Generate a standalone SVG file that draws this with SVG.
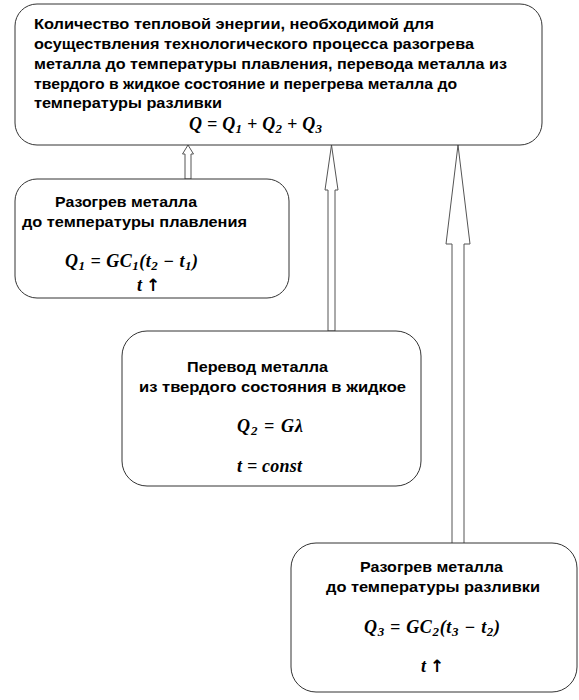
<svg xmlns="http://www.w3.org/2000/svg" width="579" height="700" viewBox="0 0 579 700">
<style>
.box{fill:#fff;stroke:#333;stroke-width:1}
.arr{fill:#fff;stroke:#555;stroke-width:1}
.t{font-family:"Liberation Sans",Arial,sans-serif;font-weight:bold;font-size:14.5px;fill:#000}
.f{font-family:"Liberation Serif","Times New Roman",serif;font-weight:bold;font-style:italic;font-size:18px;fill:#000}
.s{font-size:13px}
.up{font-family:"DejaVu Sans",sans-serif;font-style:normal;font-weight:bold;font-size:17px}
</style>
<rect width="579" height="700" fill="#fff"/>
<g id="connectors">
<path class="arr" d="M188,145 L193.5,154 L191,154 L191,179 L185,179 L185,154 L182.5,154 Z"/>
<path class="arr" d="M331.5,145 L338,190 L335,190 L335,331 L328,331 L328,190 L325,190 Z"/>
<path class="arr" d="M458,145 L470,244 L464,244 L464,551 L452,551 L452,244 L446,244 Z"/>
</g>
<g id="total">
<rect class="box" x="15" y="4" width="527" height="141" rx="22"/>
<text class="t" x="34" y="29" textLength="400" lengthAdjust="spacingAndGlyphs">Количество тепловой энергии, необходимой для</text>
<text class="t" x="34" y="49" textLength="440" lengthAdjust="spacingAndGlyphs">осуществления технологического процесса разогрева</text>
<text class="t" x="34" y="69" textLength="473" lengthAdjust="spacingAndGlyphs">металла до температуры плавления, перевода металла из</text>
<text class="t" x="34" y="89" textLength="423" lengthAdjust="spacingAndGlyphs">твердого в жидкое состояние и перегрева металла до</text>
<text class="t" x="34" y="108" textLength="188" lengthAdjust="spacingAndGlyphs">температуры разливки</text>
<text class="f" x="189" y="130" textLength="133" lengthAdjust="spacing">Q = Q<tspan class="s" dy="3">1</tspan><tspan dy="-3"> + Q</tspan><tspan class="s" dy="3">2</tspan><tspan dy="-3"> + Q</tspan><tspan class="s" dy="3">3</tspan></text>
</g>
<g id="q1">
<rect class="box" x="15" y="179" width="274" height="119" rx="22"/>
<text class="t" x="55" y="207" textLength="142" lengthAdjust="spacingAndGlyphs">Разогрев металла</text>
<text class="t" x="22" y="227" textLength="225" lengthAdjust="spacingAndGlyphs">до температуры плавления</text>
<text class="f" x="65" y="267" textLength="133" lengthAdjust="spacing">Q<tspan class="s" dy="3">1</tspan><tspan dy="-3"> = GC</tspan><tspan class="s" dy="3">1</tspan><tspan dy="-3">(t</tspan><tspan class="s" dy="3">2</tspan><tspan dy="-3"> − t</tspan><tspan class="s" dy="3">1</tspan><tspan dy="-3">)</tspan></text>
<text class="f" x="137" y="291">t<tspan class="up" dx="4">↑</tspan></text>
</g>
<g id="q2">
<rect class="box" x="122" y="331" width="299" height="155" rx="25"/>
<text class="t" x="187" y="372" textLength="141" lengthAdjust="spacingAndGlyphs">Перевод металла</text>
<text class="t" x="139" y="392" textLength="267" lengthAdjust="spacingAndGlyphs">из твердого состояния в жидкое</text>
<text class="f" x="237" y="432" textLength="66" lengthAdjust="spacing">Q<tspan class="s" dy="3">2</tspan><tspan dy="-3"> = Gλ</tspan></text>
<text class="f" x="237" y="472" textLength="65" lengthAdjust="spacing">t = const</text>
</g>
<g id="q3">
<rect class="box" x="291" y="543" width="286" height="149" rx="25"/>
<text class="t" x="360" y="572" textLength="143" lengthAdjust="spacingAndGlyphs">Разогрев металла</text>
<text class="t" x="326" y="592" textLength="214" lengthAdjust="spacingAndGlyphs">до температуры разливки</text>
<text class="f" x="364" y="633" textLength="136" lengthAdjust="spacing">Q<tspan class="s" dy="3">3</tspan><tspan dy="-3"> = GC</tspan><tspan class="s" dy="3">2</tspan><tspan dy="-3">(t</tspan><tspan class="s" dy="3">3</tspan><tspan dy="-3"> − t</tspan><tspan class="s" dy="3">2</tspan><tspan dy="-3">)</tspan></text>
<text class="f" x="421" y="672">t<tspan class="up" dx="4">↑</tspan></text>
</g>
</svg>
